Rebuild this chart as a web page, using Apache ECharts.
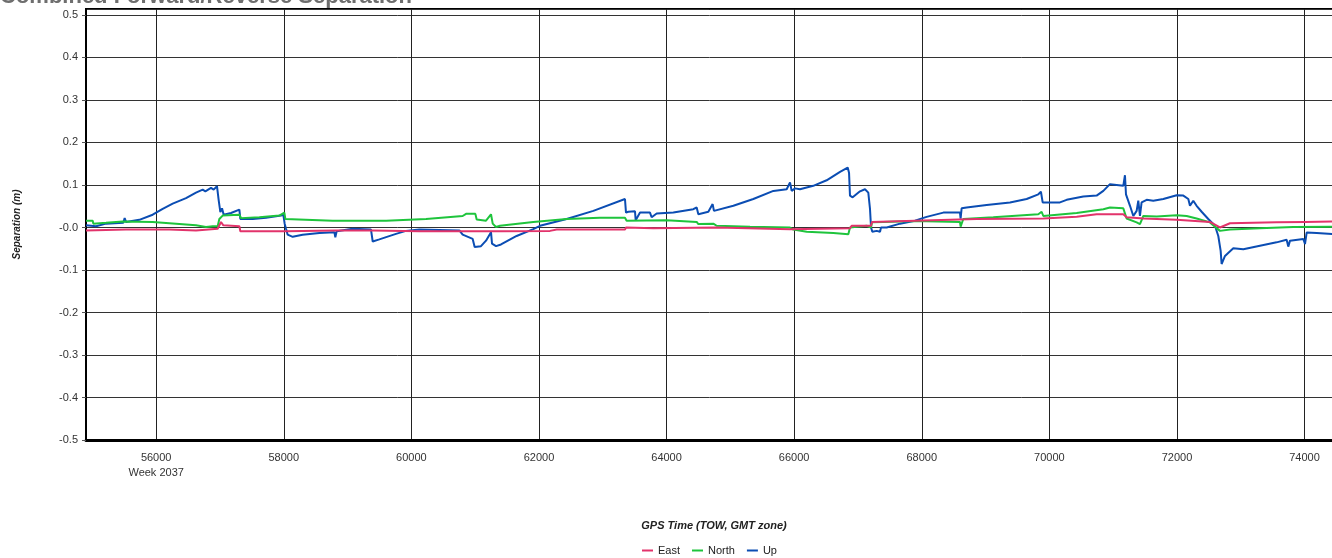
<!DOCTYPE html>
<html>
<head>
<meta charset="utf-8">
<script src="https://cdn.jsdelivr.net/npm/echarts@6/dist/echarts.min.js"></script>
<style>
html,body{margin:0;padding:0;background:#fff;}
#chart{width:1332px;height:558px;}
</style>
</head>
<body>
<div id="chart"></div>
<script>
const chartTitle = 'Combined Forward/Reverse Separation';
const xAxisTitle = 'GPS Time (TOW, GMT zone)';
const yAxisTitle = 'Separation (m)';
const weekLabel = 'Week 2037';
const seriesNames = ['East', 'North', 'Up'];
const xTickValues = [56000, 58000, 60000, 62000, 64000, 66000, 68000, 70000, 72000, 74000];
const yTickLabels = ['-0.5', '-0.4', '-0.3', '-0.2', '-0.1', '-0.0', '0.1', '0.2', '0.3', '0.4', '0.5'];

const eastData = [
  [54900,-0.007],[55527,-0.005],[56206,-0.005],[56624,-0.007],[56964,-0.003],[57016,0.013],[57053,0.005],
  [57304,0.003],[57319,-0.009],[58035,-0.009],[58819,-0.007],[59394,-0.007],[60125,-0.009],[61405,-0.009],
  [62173,-0.008],[62278,-0.005],[63348,-0.005],[63364,0.000],[63792,-0.002],[64785,0.000],[65935,-0.004],
  [66875,-0.002],[66901,0.004],[67205,0.004],[67220,0.013],[67894,0.016],[68860,0.020],[69905,0.021],
  [70428,0.025],[70741,0.031],[71159,0.031],[71211,0.024],[71473,0.021],[71995,0.018],[72517,0.013],
  [72674,0.000],[72831,0.010],[73562,0.012],[74007,0.013],[74033,0.017],[74500,0.014]
];
const northData = [
  [54900,0.016],[55005,0.016],[55015,0.009],[55214,0.011],[55475,0.014],[55945,0.013],[56311,0.009],
  [56624,0.005],[56781,0.001],[56885,0.003],[56964,0.003],[56990,0.020],[57042,0.028],[57304,0.030],
  [57330,0.022],[57617,0.024],[57931,0.028],[58009,0.035],[58025,0.020],[58767,0.016],[59080,0.016],
  [59603,0.016],[60230,0.020],[60804,0.027],[60857,0.032],[61003,0.032],[61024,0.019],[61170,0.016],
  [61248,0.031],[61275,0.009],[61327,0.001],[61389,0.004],[61911,0.013],[62434,0.020],[62956,0.023],
  [63348,0.023],[63374,0.016],[64001,0.017],[64472,0.013],[64498,0.008],[64733,0.009],[64785,0.004],
  [65308,0.002],[65935,0.000],[65987,-0.005],[66196,-0.010],[66614,-0.013],[66849,-0.016],[66875,0.000],
  [67136,0.004],[67205,0.000],[67220,0.012],[67398,0.013],[67894,0.015],[68599,0.013],[68609,0.002],
  [68651,0.020],[69121,0.024],[69827,0.031],[69879,0.037],[69905,0.027],[70428,0.034],[70846,0.043],
  [70950,0.047],[71159,0.045],[71211,0.021],[71368,0.012],[71420,0.008],[71473,0.027],[71682,0.026],
  [71995,0.029],[72152,0.027],[72308,0.021],[72517,0.012],[72674,-0.008],[72700,-0.008],[72831,-0.005],
  [73301,-0.002],[73824,0.001],[74500,0.002]
];
const upData = [
  [54900,0.005],[55057,0.003],[55214,0.009],[55485,0.011],[55506,0.022],[55527,0.013],[55736,0.018],
  [55945,0.030],[56102,0.044],[56259,0.056],[56468,0.069],[56624,0.082],[56729,0.089],[56771,0.085],
  [56859,0.093],[56901,0.089],[56953,0.097],[56980,0.064],[57006,0.036],[57032,0.045],[57058,0.030],
  [57173,0.034],[57304,0.042],[57319,0.020],[57513,0.020],[57722,0.023],[57957,0.028],[57993,0.030],
  [58014,0.009],[58035,-0.003],[58061,-0.017],[58140,-0.022],[58296,-0.017],[58558,-0.013],[58793,-0.011],
  [58808,-0.023],[58829,-0.009],[59080,-0.003],[59367,-0.005],[59394,-0.033],[59498,-0.028],[59759,-0.015],
  [59916,-0.008],[60125,-0.005],[60752,-0.007],[60804,-0.017],[60961,-0.027],[60992,-0.046],[61091,-0.044],
  [61170,-0.031],[61248,-0.011],[61264,-0.038],[61327,-0.044],[61405,-0.040],[61650,-0.020],[61911,-0.004],
  [62016,0.004],[62434,0.020],[62852,0.039],[63348,0.067],[63364,0.035],[63401,0.037],[63505,0.038],
  [63516,0.017],[63584,0.035],[63740,0.035],[63766,0.024],[63845,0.033],[64106,0.035],[64419,0.043],
  [64472,0.047],[64498,0.031],[64655,0.037],[64722,0.055],[64743,0.039],[65047,0.051],[65360,0.067],
  [65674,0.086],[65883,0.090],[65935,0.106],[65961,0.086],[66013,0.092],[66091,0.090],[66300,0.098],
  [66509,0.111],[66719,0.131],[66839,0.141],[66860,0.129],[66875,0.075],[66917,0.071],[67032,0.085],
  [67110,0.090],[67162,0.082],[67189,0.043],[67205,0.000],[67225,-0.010],[67293,-0.008],[67346,-0.010],
  [67361,0.000],[67450,0.000],[67659,0.009],[67894,0.016],[68076,0.025],[68338,0.035],[68599,0.035],
  [68609,0.021],[68625,0.045],[68703,0.047],[69017,0.053],[69383,0.059],[69644,0.067],[69827,0.078],
  [69868,0.084],[69895,0.059],[70166,0.059],[70271,0.065],[70532,0.073],[70741,0.075],[70846,0.086],
  [70950,0.102],[71055,0.100],[71159,0.098],[71185,0.123],[71201,0.078],[71264,0.051],[71316,0.027],
  [71368,0.039],[71394,0.063],[71420,0.027],[71446,0.059],[71525,0.065],[71629,0.063],[71786,0.067],
  [71995,0.076],[72100,0.075],[72178,0.067],[72204,0.051],[72256,0.063],[72308,0.051],[72387,0.037],
  [72491,0.020],[72596,0.004],[72648,-0.020],[72685,-0.055],[72700,-0.086],[72753,-0.067],[72883,-0.049],
  [73040,-0.051],[73301,-0.043],[73562,-0.035],[73719,-0.029],[73745,-0.045],[73772,-0.031],[73981,-0.027],
  [74007,-0.039],[74033,-0.012],[74190,-0.013],[74500,-0.016]
];
const seriesColors = { East: '#e2336b', North: '#1ec43c', Up: '#0b4db3' };

const FONT = 'Arial, "Liberation Sans", sans-serif';
const chart = echarts.init(document.getElementById('chart'), null, { renderer: 'canvas' });

function xLabel(v) {
  const i = xTickValues.indexOf(Math.round(v));
  if (i < 0 || Math.abs(v - xTickValues[i]) > 1e-6) return '';
  const s = String(xTickValues[i]);
  return i === 0 ? s + '\n' + weekLabel : s;
}
function yLabel(v) {
  const i = Math.round(v * 10) + 5;
  if (Math.abs(v * 10 - Math.round(v * 10)) > 1e-6 || i < 0 || i >= yTickLabels.length) return '';
  return yTickLabels[i];
}

const dataByName = { East: eastData, North: northData, Up: upData };
const drawOrder = ['Up', 'North', 'East'];

chart.setOption({
  animation: false,
  backgroundColor: '#fff',
  textStyle: { fontFamily: FONT },
  title: {
    text: chartTitle,
    left: 0,
    top: -14,
    padding: 0,
    textStyle: { fontFamily: FONT, fontSize: 22, fontWeight: 'bold', color: '#6e6e6e' }
  },
  legend: {
    data: seriesNames,
    left: 637,
    top: 540,
    icon: 'rect',
    itemWidth: 11,
    itemHeight: 2,
    itemGap: 12,
    textStyle: { fontFamily: FONT, fontSize: 11, color: '#222' }
  },
  grid: {
    left: 86, top: 9, width: 1256, height: 431,
    outerBoundsMode: 'none',
    containLabel: false,
    show: true, borderColor: '#000', borderWidth: 2, backgroundColor: '#fff'
  },
  xAxis: {
    type: 'value',
    min: 54900,
    max: 74587,
    splitNumber: 10,
    name: xAxisTitle,
    nameLocation: 'middle',
    nameGap: 80,
    nameTextStyle: { fontFamily: FONT, fontSize: 11, fontWeight: 'bold', fontStyle: 'italic', color: '#222' },
    axisLine: { show: true, onZero: false, lineStyle: { color: '#000', width: 3 } },
    axisTick: { show: false },
    splitLine: { show: true, lineStyle: { color: '#222', width: 1 } },
    axisLabel: {
      formatter: xLabel, showMinLabel: false, showMaxLabel: false,
      fontFamily: FONT, fontSize: 11, color: '#333', margin: 10, lineHeight: 15
    }
  },
  yAxis: {
    type: 'value',
    min: -0.5,
    max: 0.514,
    interval: 0.1,
    name: yAxisTitle,
    nameLocation: 'middle',
    nameGap: 64,
    nameTextStyle: { fontFamily: FONT, fontSize: 10, fontWeight: 'bold', fontStyle: 'italic', color: '#222' },
    axisLine: { show: true, lineStyle: { color: '#000', width: 2 } },
    axisTick: { show: true, length: 4, lineStyle: { color: '#555' } },
    splitLine: { show: true, lineStyle: { color: '#333', width: 1 } },
    axisLabel: {
      formatter: yLabel, showMaxLabel: false,
      fontFamily: FONT, fontSize: 11, color: '#333', margin: 8
    }
  },
  series: drawOrder.map(name => ({
    name: name,
    type: 'line',
    data: dataByName[name],
    showSymbol: false,
    symbol: 'none',
    lineStyle: { color: seriesColors[name], width: 2 },
    itemStyle: { color: seriesColors[name] },
    emphasis: { disabled: true }
  }))
});
</script>
</body>
</html>
